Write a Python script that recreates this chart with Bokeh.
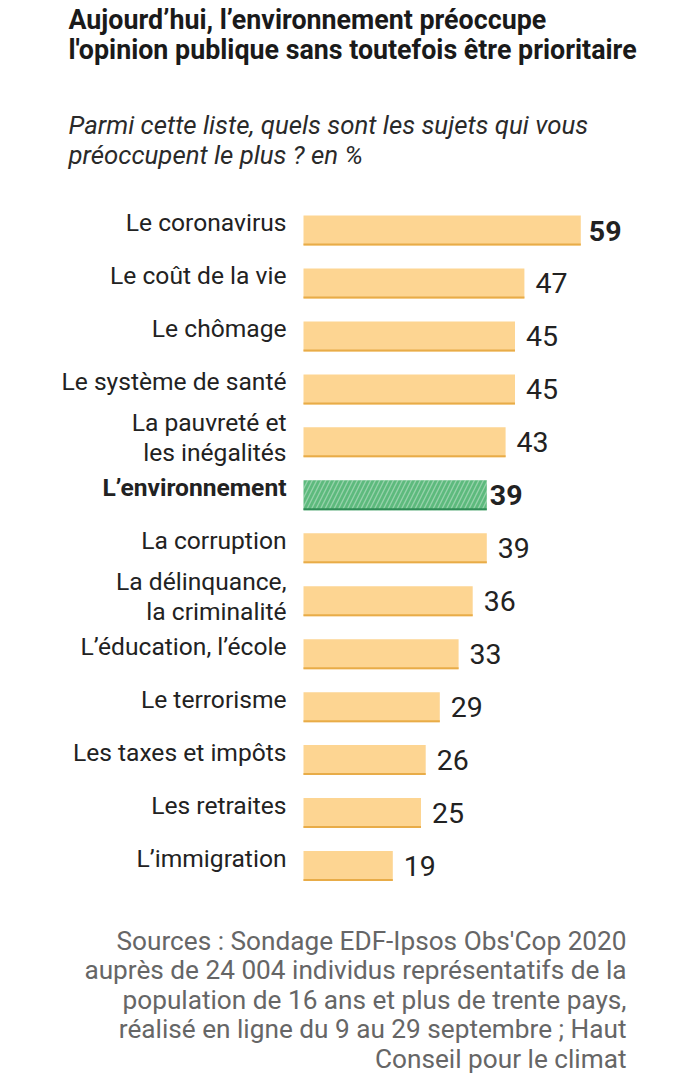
from bokeh.plotting import figure
from bokeh.models import Range1d, ColumnDataSource
from bokeh.core.properties import value
from bokeh.embed import file_html
from bokeh.resources import INLINE

# ---- data ----
categories = [
    "Le coronavirus",
    "Le coût de la vie",
    "Le chômage",
    "Le système de santé",
    "La pauvreté et\nles inégalités",
    "L’environnement",
    "La corruption",
    "La délinquance,\nla criminalité",
    "L’éducation, l’école",
    "Le terrorisme",
    "Les taxes et impôts",
    "Les retraites",
    "L’immigration",
]
values = [59, 47, 45, 45, 43, 39, 39, 36, 33, 29, 26, 25, 19]
highlight = "L’environnement"

title_lines = ["Aujourd’hui, l’environnement préoccupe",
               "l'opinion publique sans toutefois être prioritaire"]
subtitle_lines = ["Parmi cette liste, quels sont les sujets qui vous",
                  "préoccupent le plus ? en  %"]
source_lines = ["Sources : Sondage EDF-Ipsos Obs'Cop 2020",
                "auprès de 24 004 individus représentatifs de la",
                "population de 16 ans et plus de trente pays,",
                "réalisé en ligne du 9 au 29 septembre ; Haut",
                "Conseil pour le climat"]

# ---- layout ----
W, H = 688, 1084
X0_PX = 303.0       # pixel of value 0
PX_PER_UNIT = 4.70
Y0_PX = 230.0       # pixel of row 0 center
ROW_PX = 52.96
BAR_PX = 30.0

x_start = -X0_PX / PX_PER_UNIT
x_end = (W - X0_PX) / PX_PER_UNIT
y_top = -Y0_PX / ROW_PX
y_bottom = (H - Y0_PX) / ROW_PX

def px2x(px):
    return x_start + px / PX_PER_UNIT

def px2y(py):
    return y_top + py / ROW_PX

p = figure(width=W, height=H, output_backend="svg", toolbar_location=None,
           x_range=Range1d(x_start, x_end), y_range=Range1d(y_bottom, y_top),
           x_axis_location=None, y_axis_location=None, min_border=0,
           background_fill_color="white", border_fill_color="white")
p.outline_line_color = None
p.grid.visible = False

FONT = value("Roboto")
idx = list(range(len(categories)))
bar_h = BAR_PX / ROW_PX

norm = [i for i in idx if categories[i] != highlight]
hl = [i for i in idx if categories[i] == highlight]

src_n = ColumnDataSource(dict(y=norm, v=[values[i] for i in norm],
                              yb=[i + bar_h / 2 - 1.0 / ROW_PX for i in norm]))
src_h = ColumnDataSource(dict(y=hl, v=[values[i] for i in hl],
                              yb=[i + bar_h / 2 - 1.0 / ROW_PX for i in hl]))

p.hbar(y="y", left=0, right="v", height=bar_h, source=src_n,
       fill_color="#FDD592", line_color=None)
p.segment(x0=0, y0="yb", x1="v", y1="yb", source=src_n,
          line_color="#E8AC48", line_width=2)

p.hbar(y="y", left=0, right="v", height=bar_h, source=src_h,
       fill_color="#5DBA7D", line_color=None,
       hatch_pattern="/", hatch_color="white", hatch_alpha=0.35,
       hatch_scale=9, hatch_weight=1.3)
p.segment(x0=0, y0="yb", x1="v", y1="yb", source=src_h,
          line_color="#2E8B55", line_width=2)

# ---- category labels ----
lx, ly, lt, lstyle = [], [], [], []
for i, c in enumerate(categories):
    parts = c.split("\n")
    if len(parts) == 1:
        offs = [-8]
    else:
        offs = [-20, 10]
    for part, o in zip(parts, offs):
        lx.append(0)
        ly.append(i + o / ROW_PX)
        lt.append(part)
        lstyle.append("bold" if c == highlight else "normal")
src_l = ColumnDataSource(dict(x=lx, y=ly, t=lt, s=lstyle))
p.text(x="x", y="y", text="t", source=src_l, x_offset=-17,
       text_align="right", text_baseline="alphabetic",
       text_font=FONT, text_font_size="24.6px", text_font_style="s",
       text_color="#222222")

# ---- value labels ----
vx, vy, vt, vs, vo = [], [], [], [], []
for i, v in enumerate(values):
    vx.append(v)
    vy.append(i + 0 / ROW_PX)
    vt.append(str(v))
    bold = (i == 0) or categories[i] == highlight
    vs.append("bold" if bold else "normal")
    if categories[i] == highlight:
        vo.append(3)
    elif bold:
        vo.append(8)
    else:
        vo.append(11)
src_v = ColumnDataSource(dict(x=vx, y=vy, t=vt, s=vs, o=vo))
p.text(x="x", y="y", text="t", source=src_v, x_offset="o",
       text_align="left", text_baseline="alphabetic",
       text_font=FONT, text_font_size="28.5px", text_font_style="s",
       text_color="#222222")

# ---- title / subtitle / sources ----
p.text(x=[px2x(68)] * 2, y=[px2y(19), px2y(49)], text=title_lines,
       text_align="left", text_baseline="alphabetic", text_font=FONT,
       text_font_size="26.8px", text_font_style="bold", text_color="#1a1a1a")
p.text(x=[px2x(68)] * 2, y=[px2y(124), px2y(154)], text=subtitle_lines,
       text_align="left", text_baseline="alphabetic", text_font=FONT,
       text_font_size="25.8px", text_font_style="italic", text_color="#2a2a2a")
p.text(x=[px2x(626)] * len(source_lines),
       y=[px2y(940 + 29.5 * k) for k in range(len(source_lines))],
       text=source_lines, text_align="right", text_baseline="alphabetic",
       text_font=FONT, text_font_size="26.2px", text_color="#666666")

open("out.html", "w").write(file_html(p, INLINE))
